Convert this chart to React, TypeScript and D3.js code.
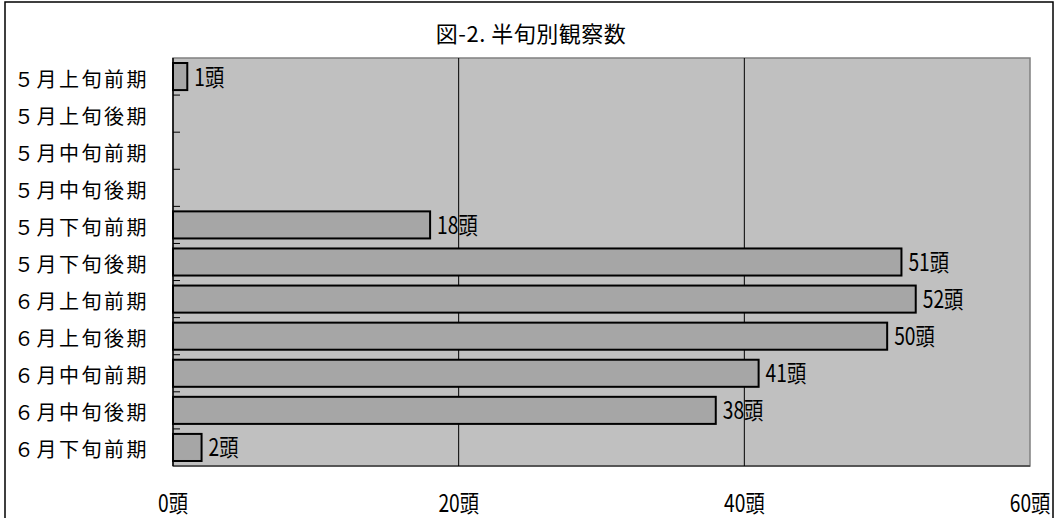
import React from "react";
import * as d3 from "d3";

const categories = [
  "５月上旬前期",
  "５月上旬後期",
  "５月中旬前期",
  "５月中旬後期",
  "５月下旬前期",
  "５月下旬後期",
  "６月上旬前期",
  "６月上旬後期",
  "６月中旬前期",
  "６月中旬後期",
  "６月下旬前期",
];
const counts = [1, 0, 0, 0, 18, 51, 52, 50, 41, 38, 2];
const xTicks = [0, 20, 40, 60];
const title = "図-2. 半旬別観察数";
const unit = "頭";

const W = 1060;
const H = 518;
const plot = { left: 173, right: 1030, top: 58, bottom: 466 };
const cjkFont = "'Noto Sans CJK JP', sans-serif";

export default function App() {
  const x = d3.scaleLinear().domain([0, 60]).range([plot.left, plot.right]);
  const y = d3
    .scaleBand<string>()
    .domain(categories)
    .range([plot.top, plot.bottom])
    .paddingInner(0.27)
    .paddingOuter(0.135);
  const step = y.step();
  const bw = y.bandwidth();

  return (
    <svg
      width={W}
      height={H}
      style={{ position: "absolute", left: 0, top: 0, background: "#fff" }}
    >
      <rect x={5} y={2} width={1048} height={H + 10} fill="#fff" stroke="#000" strokeWidth={1.5} />
      <text
        x={531}
        y={42}
        textAnchor="middle"
        fontFamily={cjkFont}
        fontSize={22}
        letterSpacing={0.5}
        fill="#000"
      >
        {title}
      </text>
      <rect
        x={plot.left}
        y={plot.top}
        width={plot.right - plot.left}
        height={plot.bottom - plot.top}
        fill="#C0C0C0"
        stroke="#808080"
        strokeWidth={1.5}
      />
      <line x1={plot.left} x2={plot.right} y1={plot.bottom} y2={plot.bottom} stroke="#404040" strokeWidth={1.5} />
      {xTicks
        .filter((t) => t > 0 && t < 60)
        .map((t) => (
          <line key={t} x1={x(t)} x2={x(t)} y1={plot.top} y2={plot.bottom} stroke="#000" strokeWidth={1} />
        ))}
      {categories.slice(1).map((c, i) => (
        <line
          key={"tk" + c}
          x1={plot.left}
          x2={plot.left + 7}
          y1={plot.top + (i + 1) * step}
          y2={plot.top + (i + 1) * step}
          stroke="#000"
          strokeWidth={1}
        />
      ))}
      <line x1={plot.left} x2={plot.left} y1={plot.top} y2={plot.bottom} stroke="#000" strokeWidth={1.5} />
      {categories.map((c, i) =>
        counts[i] > 0 ? (
          <g key={"b" + c}>
            <rect
              x={x(0)}
              y={y(c)!}
              width={x(counts[i]) - x(0)}
              height={bw}
              fill="#A6A6A6"
              stroke="#000"
              strokeWidth={2}
            />
            <g transform={`translate(${x(counts[i]) + 7},${y(c)! + bw / 2 + 9}) scale(0.8,1)`}>
              <text x={0} y={0} fontFamily={cjkFont} fontSize={24} fill="#000">
                {counts[i] + unit}
              </text>
            </g>
          </g>
        ) : null
      )}
      {categories.map((c) => (
        <text
          key={"l" + c}
          x={14}
          y={y(c)! + bw / 2 + 10}
          fontFamily={cjkFont}
          fontSize={20}
          letterSpacing={2.5}
          fill="#000"
        >
          {c}
        </text>
      ))}
      {xTicks.map((t) => (
        <g key={"xt" + t} transform={`translate(${x(t)},512) scale(0.8,1)`}>
          <text x={0} y={0} textAnchor="middle" fontFamily={cjkFont} fontSize={24} fill="#000">
            {t + unit}
          </text>
        </g>
      ))}
    </svg>
  );
}
